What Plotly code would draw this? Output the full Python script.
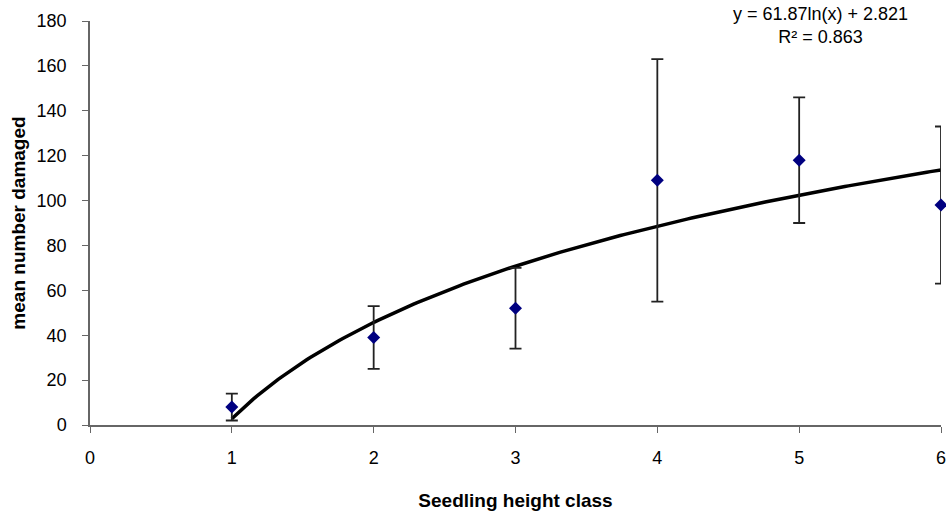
import numpy as np
import plotly.graph_objects as go

height_class = [1, 2, 3, 4, 5, 6]
mean_damaged = [8, 39, 52, 109, 118, 98]
err_upper = [14, 53, 70, 163, 146, 133]
err_lower = [2, 25, 34, 55, 90, 63]

fit_a = 61.87
fit_b = 2.821
fit_label = "y = 61.87ln(x) + 2.821<br>R² = 0.863"

err_plus = [u - m for u, m in zip(err_upper, mean_damaged)]
err_minus = [m - l for m, l in zip(mean_damaged, err_lower)]

xfit = np.linspace(1, 6, 200)
yfit = fit_a * np.log(xfit) + fit_b

font = "Liberation Sans, Arial, sans-serif"
axis_col = "#666666"

fig = go.Figure()
fig.add_trace(go.Scatter(x=xfit, y=yfit, mode="lines",
                         line=dict(color="black", width=3.5),
                         hoverinfo="skip", showlegend=False, cliponaxis=False))
fig.add_trace(go.Scatter(
    x=height_class, y=mean_damaged, mode="markers", cliponaxis=False,
    marker=dict(symbol="diamond", size=10, color="#000080"),
    error_y=dict(type="data", symmetric=False, array=err_plus, arrayminus=err_minus,
                 color="#222222", thickness=1.8, width=6),
    showlegend=False))

fig.add_annotation(x=5.15, y=178, xref="x", yref="y", yanchor="middle",
                   text=fit_label, showarrow=False,
                   font=dict(family=font, size=18, color="black"), align="center")

fig.update_layout(
    width=946, height=511,
    margin=dict(l=90, r=5, t=21, b=86),
    paper_bgcolor="white", plot_bgcolor="white",
    font=dict(family=font, size=18, color="black"),
    xaxis=dict(range=[0, 6], dtick=1, tick0=0, showgrid=False, zeroline=False,
               showline=True, linecolor=axis_col, linewidth=1.5,
               ticks="outside", ticklen=6, tickcolor=axis_col,
               ticklabelstandoff=10, ticklabeloverflow="allow", automargin=False,
               title=dict(text="<b>Seedling height class</b>", font=dict(size=19), standoff=28)),
    yaxis=dict(range=[0, 180], dtick=20, showgrid=False, zeroline=False,
               showline=True, linecolor=axis_col, linewidth=1.5,
               ticks="outside", ticklen=6, tickcolor=axis_col,
               ticklabelstandoff=12, automargin=False,
               title=dict(text="<b>mean number damaged</b>", font=dict(size=19), standoff=6)),
)

fig.write_html("out.html", config={"displayModeBar": False},
               post_script="document.body.style.margin='0';document.body.style.overflow='hidden';")
